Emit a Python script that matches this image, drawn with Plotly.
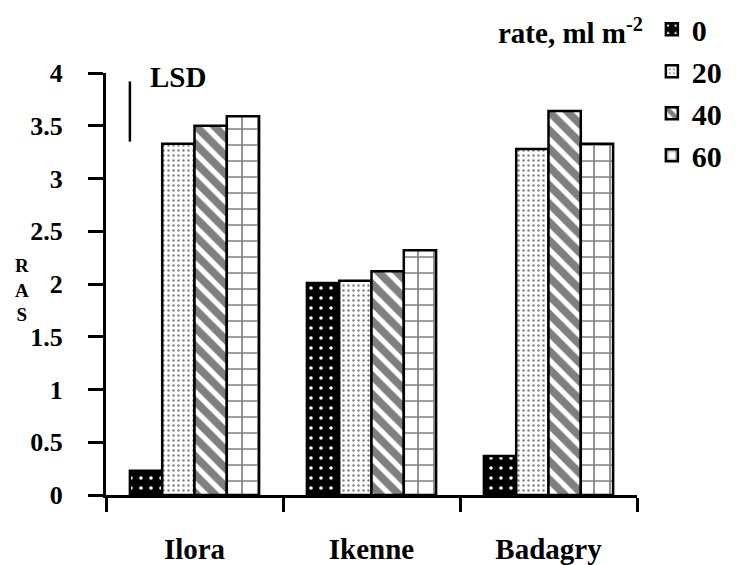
import plotly.graph_objects as go

sites = ["Ilora", "Ikenne", "Badagry"]
rates = ["0", "20", "40", "60"]
ras_0 = [0.23, 2.01, 0.37]
ras_20 = [3.33, 2.03, 3.28]
ras_40 = [3.50, 2.12, 3.64]
ras_60 = [3.59, 2.32, 3.33]
lsd_value = 0.57
y_ticks = [0, 0.5, 1, 1.5, 2, 2.5, 3, 3.5, 4]
y_tick_labels = ["0", "0.5", "1", "1.5", "2", "2.5", "3", "3.5", "4"]

FONT = "Liberation Serif"

patterns = [
    dict(shape=".", fgcolor="white", bgcolor="black", size=10, solidity=0.1, fillmode="replace"),
    dict(shape=".", fgcolor="black", bgcolor="white", size=5, solidity=0.18),
    dict(shape="\\", fgcolor="black", bgcolor="white", size=13, solidity=0.6),
    dict(shape="+", fgcolor="black", bgcolor="white", size=16, solidity=0.2),
]
series = [ras_0, ras_20, ras_40, ras_60]

fig = go.Figure()
for i, (name, vals) in enumerate(zip(rates, series)):
    fig.add_trace(go.Bar(
        x=sites, y=vals, name=name,
        marker=dict(color="black" if i == 0 else "white",
                    pattern=patterns[i],
                    line=dict(color="black", width=2.5)),
        legendgroup=name,
    ))

fig.update_layout(
    width=738, height=565,
    margin=dict(l=106, r=101, t=73, b=70, autoexpand=False),
    plot_bgcolor="white", paper_bgcolor="white",
    barmode="group", bargap=0.27, bargroupgap=0,
    font=dict(family=FONT, size=24, color="black", weight="bold"),
    showlegend=True,
    legend=dict(x=1.028, y=1.165, xanchor="left", yanchor="top",
                traceorder="grouped", tracegroupgap=0,
                font=dict(family=FONT, size=30, weight="bold"),
                bgcolor="rgba(0,0,0,0)", itemwidth=30),
    xaxis=dict(type="category", range=[-0.5, 2.5], showline=True, linecolor="black",
               linewidth=3, ticks="outside", tickson="boundaries", ticklen=14,
               tickwidth=3, tickcolor="black", showgrid=False,
               tickfont=dict(family=FONT, size=29, weight="bold"),
               ticklabelstandoff=26),
    yaxis=dict(range=[0, 4], tickvals=y_ticks, ticktext=y_tick_labels,
               showline=True, linecolor="black", linewidth=3, ticks="outside",
               ticklen=15, tickwidth=3, tickcolor="black", showgrid=False,
               zeroline=False, tickfont=dict(family=FONT, size=26, weight="bold"),
               ticklabelstandoff=20),
)

# LSD bar
fig.add_shape(type="line", xref="paper", yref="y", x0=0.045, x1=0.045,
              y0=3.92, y1=3.92 - lsd_value, line=dict(color="black", width=2.5))
fig.add_annotation(text="LSD", xref="paper", yref="y", x=0.08, y=3.96,
                   xanchor="left", yanchor="middle", showarrow=False,
                   font=dict(family=FONT, size=29, weight="bold"))
# legend title
fig.add_annotation(text="rate, ml m<sup>-2</sup>", xref="paper", yref="paper",
                   x=1.015, y=1.1, xanchor="right", yanchor="middle", showarrow=False,
                   font=dict(family=FONT, size=29, weight="bold"))
# y-axis title (stacked letters)
fig.add_annotation(text="R<br>A<br>S", xref="paper", yref="paper",
                   x=-0.158, y=0.486, xanchor="center", yanchor="middle", showarrow=False,
                   font=dict(family=FONT, size=19, weight="bold"))

fig.write_html("out.html", config={"displayModeBar": False},
               post_script="document.body.style.margin='0';")
